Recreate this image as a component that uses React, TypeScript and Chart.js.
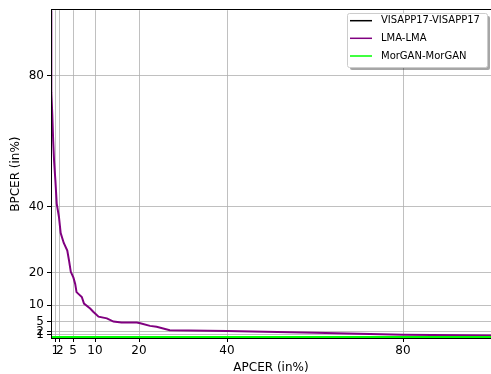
import React, { useEffect, useRef } from 'react';
import { Chart, registerables } from 'chart.js';

Chart.register(...registerables);

const tickValues = [1, 2, 5, 10, 20, 40, 80];
const seriesNames = ['VISAPP17-VISAPP17', 'LMA-LMA', 'MorGAN-MorGAN'];
const seriesColors = ['#000000', '#800080', '#00ff00'];

const visappApcer = [0, 100];
const visappBpcer = [0, 0];

const lmaApcer = [0, 0.05, 0.1, 0.3, 0.5, 0.7, 1.0, 1.3, 1.8, 2.2, 2.9, 3.7, 4.1, 4.5, 5.1, 5.5, 5.8, 7.0, 7.5, 8.9, 9.6, 10.8, 12.7, 14.2, 16.0, 19.5, 20.3, 22.5, 24.0, 27.0, 40.0, 60.0, 80.0, 100.0];
const lmaBpcer = [100, 90, 75, 68, 60, 54, 48, 41, 37, 32, 29, 26.7, 23.6, 20.2, 18.4, 16.5, 14, 12.5, 10.5, 9, 8, 6.5, 6, 5, 4.7, 4.7, 4.5, 3.7, 3.4, 2.4, 2.1, 1.6, 1.0, 0.8];

const morganApcer = [0, 100];
const morganBpcer = [0, 0];

const FONT = "'DejaVu Sans', sans-serif";

const toPoints = (xs: number[], ys: number[]) => xs.map((x, i) => ({ x, y: ys[i] }));

const framePlugin = {
  id: 'frame',
  afterDatasetsDraw(chart: any) {
    const { ctx, chartArea } = chart;
    const l = Math.round(chartArea.left);
    const t = Math.round(chartArea.top);
    const r = Math.round(chartArea.right);
    const b = Math.round(chartArea.bottom);
    ctx.save();
    ctx.fillStyle = '#000';
    ctx.fillRect(l, t - 1, r - l, 1);
    ctx.fillRect(l, b, r - l, 1);
    ctx.fillRect(l, t - 1, 1, b - t + 2);
    ctx.restore();
  },
  afterDraw(chart: any) {
    const { ctx } = chart;
    const bx = 347, by = 13, bw = 140, bh = 54;
    ctx.save();
    ctx.fillStyle = 'rgba(0,0,0,0.35)';
    ctx.beginPath();
    ctx.roundRect(bx + 3, by + 3, bw, bh, 2);
    ctx.fill();
    ctx.fillStyle = '#ffffff';
    ctx.strokeStyle = '#cccccc';
    ctx.lineWidth = 1;
    ctx.beginPath();
    ctx.roundRect(bx + 0.5, by + 0.5, bw, bh, 2);
    ctx.fill();
    ctx.stroke();
    const rows = [20.7, 38.3, 56];
    ctx.font = `10px ${FONT}`;
    ctx.textBaseline = 'middle';
    ctx.textAlign = 'left';
    seriesNames.forEach((name, i) => {
      ctx.strokeStyle = seriesColors[i];
      ctx.lineWidth = 1.5;
      ctx.beginPath();
      ctx.moveTo(350, rows[i]);
      ctx.lineTo(372, rows[i]);
      ctx.stroke();
      ctx.fillStyle = '#000';
      ctx.fillText(name, 381, rows[i]);
    });
    ctx.restore();
  },
};

export default function App() {
  const ref = useRef<HTMLCanvasElement>(null);
  useEffect(() => {
    if (!ref.current) return;
    const axisCommon = {
      type: 'linear' as const,
      min: 0,
      max: 100,
      afterBuildTicks: (s: any) => {
        s.ticks = tickValues.map((v) => ({ value: v }));
      },
      grid: { color: '#b0b0b0', lineWidth: 0.8, tickColor: '#000', tickLength: 4, tickWidth: 1 },
      border: { display: false },
    };
    const chart = new Chart(ref.current, {
      type: 'scatter',
      data: {
        datasets: [
          { label: seriesNames[0], data: toPoints(visappApcer, visappBpcer), borderColor: seriesColors[0], backgroundColor: seriesColors[0], showLine: true, pointRadius: 0, borderWidth: 2, order: 3 },
          { label: seriesNames[1], data: toPoints(lmaApcer, lmaBpcer), borderColor: seriesColors[1], backgroundColor: seriesColors[1], showLine: true, pointRadius: 0, borderWidth: 2, order: 2 },
          { label: seriesNames[2], data: toPoints(morganApcer, morganBpcer), borderColor: seriesColors[2], backgroundColor: seriesColors[2], showLine: true, pointRadius: 0, borderWidth: 4, order: 1 },
        ],
      },
      options: {
        responsive: false,
        animation: false,
        layout: { padding: { top: 9, right: 0, left: 0, bottom: 0 } },
        plugins: { legend: { display: false }, tooltip: { enabled: false } },
        scales: {
          x: {
            ...axisCommon,
            afterFit: (s: any) => { s.height = 36; },
            ticks: { autoSkip: false, maxRotation: 0, color: '#000', font: { size: 12, family: FONT }, padding: 2 },
            title: { display: true, text: 'APCER (in%)', color: '#000', font: { size: 12, family: FONT, lineHeight: 1.0 }, padding: { top: 0, bottom: 0 } },
          },
          y: {
            ...axisCommon,
            afterFit: (s: any) => { s.width = 51; },
            ticks: { autoSkip: false, color: '#000', font: { size: 12, family: FONT }, padding: 3 },
            title: { display: true, text: 'BPCER (in%)', color: '#000', font: { size: 12, family: FONT }, padding: { top: 9, bottom: 0 } },
          },
        },
      },
      plugins: [framePlugin],
    });
    return () => chart.destroy();
  }, []);
  return (
    <div style={{ position: 'absolute', left: 0, top: 0, width: 491, height: 374, background: '#fff' }}>
      <canvas ref={ref} width={491} height={374} />
    </div>
  );
}
